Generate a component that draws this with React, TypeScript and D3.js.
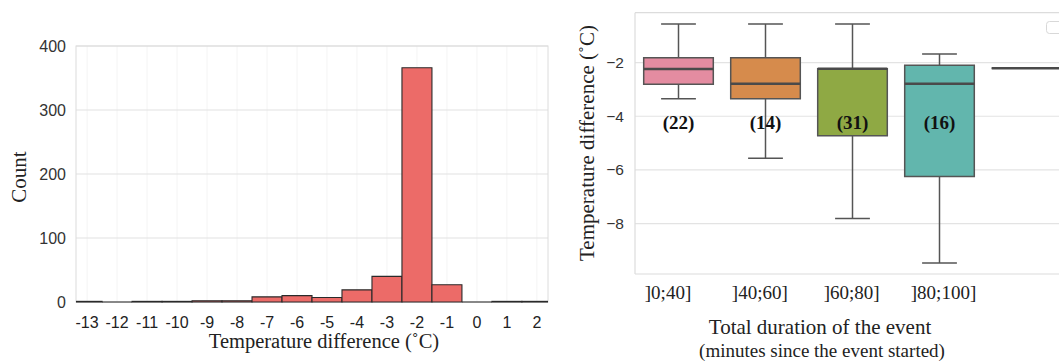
import React from 'react';
import * as d3 from 'd3';

// histogram: one bin per whole degree
const binCentres = [-13, -12, -11, -10, -9, -8, -7, -6, -5, -4, -3, -2, -1, 0, 1, 2];
const binCounts = [1, 0, 1, 1, 2, 2, 8, 10, 7, 19, 40, 366, 27, 0, 1, 1];
const histXTicks = [-13, -12, -11, -10, -9, -8, -7, -6, -5, -4, -3, -2, -1, 0, 1, 2];
const histYTicks = [0, 100, 200, 300, 400];

// boxplot by event duration
const durationCats = [']0;40]', ']40;60]', ']60;80]', ']80;100]', 'extra'];
const durationLabels = [']0;40]', ']40;60]', ']60;80]', ']80;100]'];
const whiskerHigh = [-0.56, -0.56, -0.56, -1.68, -2.21];
const q3 = [-1.82, -1.82, -2.23, -2.1, -2.21];
const medians = [-2.24, -2.79, -2.23, -2.79, -2.21];
const q1 = [-2.81, -3.35, -4.73, -6.25, -2.21];
const whiskerLow = [-3.35, -5.57, -7.81, -9.47, -2.21];
const nLabels = ['(22)', '(14)', '(31)', '(16)', ''];
const boxColors = ['#e48ca1', '#d68b4c', '#8fa944', '#62b6ad', '#c4a0d8'];
const boxYTicks = [-2, -4, -6, -8];

const SERIF = '"Liberation Serif", "Times New Roman", serif';
const SANS = '"Liberation Sans", Arial, sans-serif';

const Histogram = () => {
  const x = d3.scaleLinear().domain([-13.37, 2.37]).range([76, 548]);
  const y = d3.scaleLinear().domain([0, 400]).range([302, 46]);
  const [x0, x1] = x.range();
  const [yb, yt] = y.range();

  return (
    <g>
      <defs>
        <clipPath id="histClip">
          <rect x={x0} y={yt - 2} width={x1 - x0} height={yb - yt + 4} />
        </clipPath>
      </defs>
      {/* faint vertical grid */}
      {histXTicks.map((t) => (
        <line key={'vg' + t} x1={x(t)} x2={x(t)} y1={yt} y2={yb} stroke="#f4f4f4" />
      ))}
      {histYTicks.map((t) => (
        <line key={'hg' + t} x1={x0} x2={x1} y1={y(t)} y2={y(t)} stroke="#e2e2e2" strokeWidth={1.2} />
      ))}
      <rect x={x0} y={yt} width={x1 - x0} height={yb - yt} fill="none" stroke="#dcdcdc" />
      <g clipPath="url(#histClip)">
        {binCentres.map((c, i) => {
          const a = x(c - 0.5);
          const b = x(c + 0.5);
          const top = y(binCounts[i]);
          return (
            <path
              key={'bin' + c}
              d={`M${a},${yb}V${top}H${b}V${yb}Z`}
              fill="#ec6b68"
              stroke="#2a2a2a"
              strokeWidth={1.1}
            />
          );
        })}
      </g>
      {histYTicks.map((t) => (
        <text key={'yl' + t} x={66} y={y(t) + 5.5} textAnchor="end" fontFamily={SANS} fontSize={16} fill="#333">
          {t}
        </text>
      ))}
      {histXTicks.map((t) => (
        <text key={'xl' + t} x={x(t)} y={328} textAnchor="middle" fontFamily={SANS} fontSize={16} fill="#222">
          {t}
        </text>
      ))}
      <text x={324} y={348} textAnchor="middle" fontFamily={SERIF} fontSize={20.5} fill="#222">
        Temperature difference (˚C)
      </text>
      <text
        transform="translate(26,177) rotate(-90)"
        textAnchor="middle"
        fontFamily={SERIF}
        fontSize={21}
        fill="#222"
      >
        Count
      </text>
    </g>
  );
};

const BoxPlot = () => {
  const x = d3.scaleBand().domain(durationCats).range([635, 1070]).padding(0);
  // the category labels sit slightly off the box centres in the original figure
  const xLab = d3.scalePoint().domain(durationLabels).range([668, 943.5]);
  const y = d3.scaleLinear().domain([-9.88, -0.14]).range([274, 12.7]);
  const bw = x.bandwidth();
  const boxW = bw * 0.8;
  const capW = boxW / 2;
  const [yb, yt] = y.range();
  const left = 635;
  const right = 1059;

  return (
    <g>
      {boxYTicks.map((t) => (
        <line key={'g' + t} x1={left} x2={right} y1={y(t)} y2={y(t)} stroke="#e3e3e3" strokeWidth={1.2} />
      ))}
      <line x1={left} x2={right} y1={yt} y2={yt} stroke="#dcdcdc" strokeWidth={1.2} />
      <line x1={left} x2={right} y1={yb} y2={yb} stroke="#dcdcdc" strokeWidth={1.2} />
      <line x1={left} x2={left} y1={yt} y2={yb} stroke="#dcdcdc" strokeWidth={1.2} />
      {durationCats.map((c, i) => {
        const cx = (x(c) as number) + bw / 2;
        const bx = cx - boxW / 2;
        return (
          <g key={c}>
            <line x1={cx} x2={cx} y1={y(whiskerHigh[i])} y2={y(q3[i])} stroke="#555" strokeWidth={1.5} />
            <line x1={cx} x2={cx} y1={y(q1[i])} y2={y(whiskerLow[i])} stroke="#555" strokeWidth={1.5} />
            <line x1={cx - capW / 2} x2={cx + capW / 2} y1={y(whiskerHigh[i])} y2={y(whiskerHigh[i])} stroke="#555" strokeWidth={1.5} />
            <line x1={cx - capW / 2} x2={cx + capW / 2} y1={y(whiskerLow[i])} y2={y(whiskerLow[i])} stroke="#555" strokeWidth={1.5} />
            <path
              d={`M${bx},${y(q1[i])}V${y(q3[i])}H${bx + boxW}V${y(q1[i])}Z`}
              fill={boxColors[i]}
              stroke="#555"
              strokeWidth={1.5}
            />
            <line x1={bx} x2={bx + boxW} y1={y(medians[i])} y2={y(medians[i])} stroke="#4a4a4a" strokeWidth={2.4} />
            {nLabels[i] && (
              <text x={cx} y={y(-4.27) + 6} textAnchor="middle" fontFamily={SERIF} fontWeight="bold" fontSize={19} fill="#111">
                {nLabels[i]}
              </text>
            )}
          </g>
        );
      })}
      {durationLabels.map((l) => (
        <text key={l} x={xLab(l)} y={299} textAnchor="middle" fontFamily={SERIF} fontSize={19} fill="#222">
          {l}
        </text>
      ))}
      {boxYTicks.map((t) => (
        <text key={'t' + t} x={624} y={y(t) + 5.5} textAnchor="end" fontFamily={SANS} fontSize={15.5} fill="#333">
          {'\u2212' + Math.abs(t)}
        </text>
      ))}
      <text
        transform="translate(594,143) rotate(-90)"
        textAnchor="middle"
        fontFamily={SERIF}
        fontSize={21}
        fill="#222"
      >
        Temperature difference (˚C)
      </text>
      <text x={820} y={334} textAnchor="middle" fontFamily={SERIF} fontSize={21} fill="#222">
        Total duration of the event
      </text>
      <text x={822} y={357} textAnchor="middle" fontFamily={SERIF} fontSize={19} fill="#222">
        (minutes since the event started)
      </text>
      <rect x={1046.5} y={21.5} width={40} height={12} rx={3} fill="#fff" stroke="#d8d8d8" />
    </g>
  );
};

export default function App() {
  return (
    <div style={{ position: 'absolute', left: 0, top: 0, background: 'white' }}>
      <svg width={1059} height={362} style={{ display: 'block' }}>
        <rect width={1059} height={362} fill="#fff" />
        <Histogram />
        <BoxPlot />
      </svg>
    </div>
  );
}
